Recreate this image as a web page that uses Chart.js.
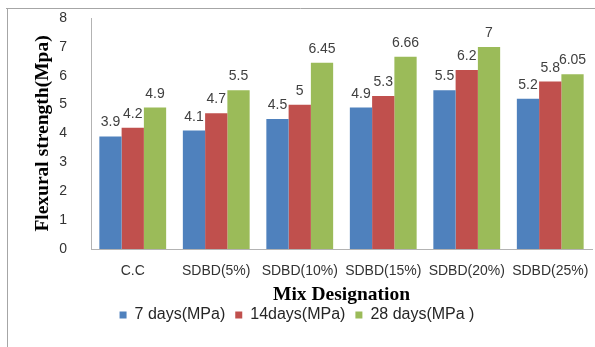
<!DOCTYPE html>
<html>
<head>
<meta charset="utf-8">
<script src="https://cdn.jsdelivr.net/npm/chart.js@4/dist/chart.umd.min.js"></script>
<style>
  html, body { margin: 0; padding: 0; background: #ffffff; }
  #wrap { position: relative; width: 595px; height: 347px; }
</style>
</head>
<body>
<div id="wrap"><canvas id="c" width="595" height="347"></canvas></div>
<script>
// Mix designations along the x axis
const categories = ['C.C', 'SDBD(5%)', 'SDBD(10%)', 'SDBD(15%)', 'SDBD(20%)', 'SDBD(25%)'];

// Flexural strength (MPa) by curing age
const days7  = [3.9, 4.1, 4.5, 4.9, 5.5, 5.2];
const days14 = [4.2, 4.7, 5, 5.3, 6.2, 5.8];
const days28 = [4.9, 5.5, 6.45, 6.66, 7, 6.05];

const seriesNames = ['7 days(MPa)', '14days(MPa)', '28 days(MPa )'];
const yTicks = [0, 1, 2, 3, 4, 5, 6, 7, 8];

const sansFont = "'Liberation Sans', Arial, sans-serif";
const serifFont = "'Liberation Serif', 'Times New Roman', serif";

// Page frame: grey rule along the top and left edges
const framePlugin = {
  id: 'frame',
  beforeDraw(chart) {
    const ctx = chart.ctx;
    ctx.save();
    ctx.fillStyle = '#ffffff';
    ctx.fillRect(0, 0, chart.width, chart.height);
    ctx.strokeStyle = '#a6a6a6';
    ctx.lineWidth = 1;
    ctx.beginPath();
    ctx.moveTo(6, 8.5);
    ctx.lineTo(chart.width, 8.5);
    ctx.moveTo(7.5, 8.5);
    ctx.lineTo(7.5, chart.height);
    ctx.stroke();
    ctx.restore();
  }
};

// Centre the legend row on the whole page rather than on the plot box
const legendShift = {
  id: 'legendShift',
  afterLayout(chart) {
    const lg = chart.legend;
    if (!lg) return;
    const dx = -14, dy = 2;
    lg.left += dx; lg.right += dx;
    lg.top += dy; lg.bottom += dy;
  }
};

// Value labels above every bar
const valueLabels = {
  id: 'valueLabels',
  afterDatasetsDraw(chart) {
    const ctx = chart.ctx;
    ctx.save();
    ctx.font = '14px ' + sansFont;
    ctx.fillStyle = '#404040';
    ctx.textAlign = 'center';
    ctx.textBaseline = 'alphabetic';
    chart.data.datasets.forEach((ds, i) => {
      const meta = chart.getDatasetMeta(i);
      meta.data.forEach((bar, j) => {
        ctx.fillText(String(ds.data[j]), bar.x, bar.y - 10);
      });
    });
    ctx.restore();
  }
};

new Chart(document.getElementById('c'), {
  type: 'bar',
  data: {
    labels: categories,
    datasets: [
      { label: seriesNames[0], data: days7,  backgroundColor: '#4F81BD' },
      { label: seriesNames[1], data: days14, backgroundColor: '#C0504D' },
      { label: seriesNames[2], data: days28, backgroundColor: '#9BBB59' }
    ]
  },
  options: {
    responsive: false,
    animation: false,
    devicePixelRatio: 1,
    layout: { padding: { left: 30, right: 3, top: 18, bottom: 16 } },
    datasets: { bar: { categoryPercentage: 0.8, barPercentage: 1.0, borderWidth: 0 } },
    plugins: {
      legend: {
        position: 'bottom',
        labels: {
          boxWidth: 7,
          boxHeight: 7,
          padding: 10,
          color: '#262626',
          font: { family: sansFont, size: 16 }
        }
      },
      tooltip: { enabled: false }
    },
    scales: {
      x: {
        grid: { display: false, drawTicks: false },
        border: { display: true, color: '#b3b3b3', width: 1 },
        ticks: { color: '#333333', padding: 14, font: { family: sansFont, size: 14 } },
        title: {
          display: true,
          text: 'Mix Designation',
          color: '#000000',
          font: { family: serifFont, size: 19.5, weight: 'bold', lineHeight: 1 },
          padding: { top: 0, bottom: -9.75 }
        },
        afterFit(scale) {
          scale.height = 46;
          scale.paddingLeft = 0;
          scale.paddingRight = 0;
        }
      },
      y: {
        min: 0,
        max: 8,
        afterBuildTicks(scale) {
          scale.ticks = yTicks.map(v => ({ value: v }));
        },
        grid: { display: false, drawTicks: false },
        border: { display: true, color: '#b3b3b3', width: 1 },
        ticks: { color: '#333333', padding: 24, font: { family: sansFont, size: 14 } },
        title: {
          display: true,
          text: 'Flexural strength(Mpa)',
          color: '#000000',
          font: { family: serifFont, size: 19.5, weight: 'bold', lineHeight: 1 },
          padding: { top: 3.25, bottom: 0 }
        },
        afterFit(scale) {
          scale.width = 61;
          scale.paddingTop = 0;
          scale.paddingBottom = 0;
        }
      }
    }
  },
  plugins: [framePlugin, legendShift, valueLabels]
});
</script>
</body>
</html>
